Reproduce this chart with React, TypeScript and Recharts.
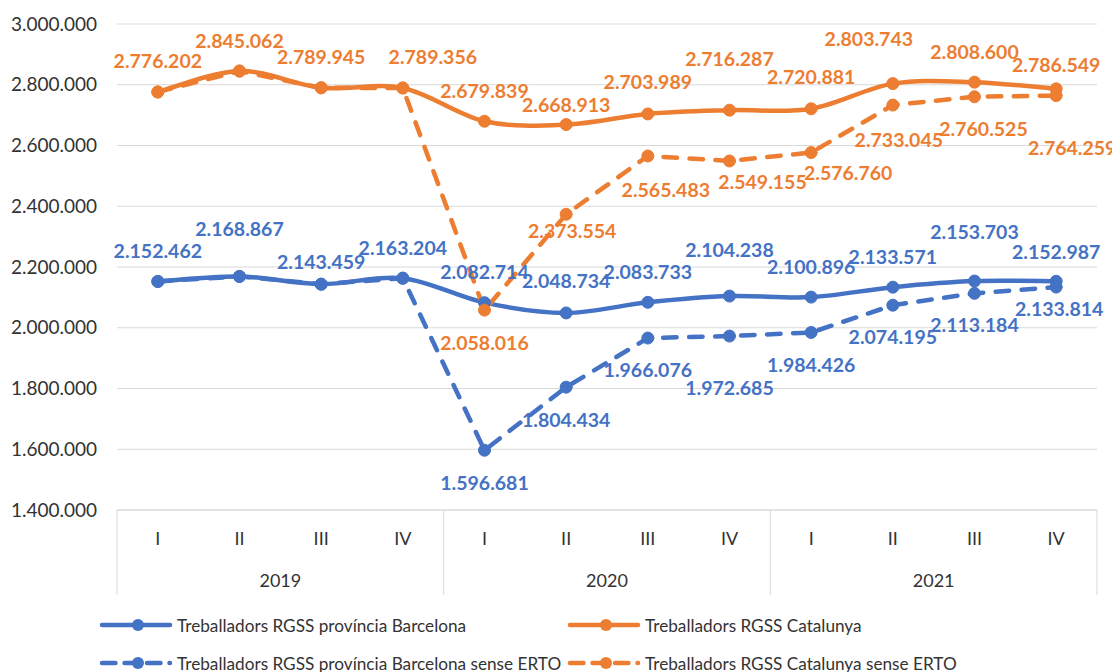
import React from 'react';
import { LineChart, Line, XAxis, YAxis, CartesianGrid, LabelList, Legend } from 'recharts';

const quarters = ['I', 'II', 'III', 'IV', 'I', 'II', 'III', 'IV', 'I', 'II', 'III', 'IV'];
const years = ['2019', '2019', '2019', '2019', '2020', '2020', '2020', '2020', '2021', '2021', '2021', '2021'];
const bcn = [2152462, 2168867, 2143459, 2163204, 2082714, 2048734, 2083733, 2104238, 2100896, 2133571, 2153703, 2152987];
const cat = [2776202, 2845062, 2789945, 2789356, 2679839, 2668913, 2703989, 2716287, 2720881, 2803743, 2808600, 2786549];
const bcnSense = [2152462, 2168867, 2143459, 2163204, 1596681, 1804434, 1966076, 1972685, 1984426, 2074195, 2113184, 2133814];
const catSense = [2776202, 2845062, 2789945, 2789356, 2058016, 2373554, 2565483, 2549155, 2576760, 2733045, 2760525, 2764259];
const yTicks = [1400000, 1600000, 1800000, 2000000, 2200000, 2400000, 2600000, 2800000, 3000000];
const seriesNames = [
  'Treballadors RGSS província Barcelona',
  'Treballadors RGSS Catalunya',
  'Treballadors RGSS província Barcelona sense ERTO',
  'Treballadors RGSS Catalunya sense ERTO',
];
const uniqueYears = Array.from(new Set(years));

const BLUE = '#4472C4';
const ORANGE = '#ED7D31';
const GRID = '#D9D9D9';
const TEXT = '#333333';
const FONT = 'Lato, sans-serif';
const DASH = '13.5 12.5';

// label offsets [dx, dy] relative to the point (null = no label)
const bcnLabelOff: (number[] | null)[] = [
  [0, -31], [0, -48], [0, -23], [0, -31], [0, -31], [0, -32], [0, -31], [0, -47], [0, -31], [0, -31], [0, -50], [0, -30],
];
const catLabelOff: (number[] | null)[] = [
  [0, -31], [0, -31], [0, -31], [30, -31], [0, -31], [0, -20], [0, -32], [0, -52], [0, -32], [-24, -45], [0, -31], [0, -24],
];
const bcnSenseLabelOff: (number[] | null)[] = [
  null, null, null, null, [0, 32], [0, 32], [0, 31], [0, 51], [0, 32], [0, 31], [0, 31], [3, 21],
];
const catSenseLabelOff: (number[] | null)[] = [
  null, null, null, null, [0, 32], [6, 16], [18, 34], [33, 21], [37, 20], [6, 34], [9, 32], [16, 52],
];

const data = quarters.map((q, i) => ({
  q,
  year: years[i],
  bcn: bcn[i],
  cat: cat[i],
  bcnSense: bcnSense[i],
  catSense: catSense[i],
}));

const fmt = (v: number) => String(v).replace(/\B(?=(\d{3})+(?!\d))/g, '.');

// Excel-like smoothing (Catmull-Rom style bezier)
const excelCurve = (context: any) => {
  let pts: number[][] = [];
  return {
    areaStart() {},
    areaEnd() {},
    lineStart() {
      pts = [];
    },
    point(x: number, y: number) {
      pts.push([+x, +y]);
    },
    lineEnd() {
      const n = pts.length;
      if (!n) return;
      context.moveTo(pts[0][0], pts[0][1]);
      for (let i = 0; i < n - 1; i++) {
        const p0 = pts[Math.max(i - 1, 0)];
        const p1 = pts[i];
        const p2 = pts[i + 1];
        const p3 = pts[Math.min(i + 2, n - 1)];
        context.bezierCurveTo(
          p1[0] + (p2[0] - p0[0]) / 6,
          p1[1] + (p2[1] - p0[1]) / 6,
          p2[0] - (p3[0] - p1[0]) / 6,
          p2[1] - (p3[1] - p1[1]) / 6,
          p2[0],
          p2[1]
        );
      }
    },
  };
};

const makeLabel = (color: string, offs: (number[] | null)[]) => (props: any) => {
  const { x, y, value, index } = props;
  const o = offs[index];
  if (!o || x == null || y == null) return null;
  return (
    <text
      x={x + o[0]}
      y={y + o[1]}
      textAnchor="middle"
      dominantBaseline="central"
      fill={color}
      fontSize={19.5}
      fontWeight={700}
      fontFamily={FONT}
    >
      {fmt(value)}
    </text>
  );
};

const QuarterTick = (props: any) => {
  const { x, y, payload } = props;
  return (
    <text x={x} y={y + 28} textAnchor="middle" dominantBaseline="central" fill={TEXT} fontSize={18} fontWeight={400} fontFamily={FONT}>
      {payload.value}
    </text>
  );
};

const YearTick = (props: any) => {
  const { x, y, payload, index, visibleTicksCount } = props;
  // if ticks were not de-duplicated, draw each year only once
  if (visibleTicksCount !== uniqueYears.length && years.indexOf(payload.value) !== index) return null;
  const isLast = payload.value === uniqueYears[uniqueYears.length - 1];
  const half = payload && payload.offset ? payload.offset : 980 / 6;
  const top = y - 42;
  const bottom = y + 43;
  return (
    <g>
      <line x1={x - half} x2={x - half} y1={top} y2={bottom} stroke={GRID} strokeWidth={1} />
      {isLast && <line x1={x + half} x2={x + half} y1={top} y2={bottom} stroke={GRID} strokeWidth={1} />}
      <text x={x} y={y + 28} textAnchor="middle" dominantBaseline="central" fill={TEXT} fontSize={18} fontWeight={400} fontFamily={FONT}>
        {payload.value}
      </text>
    </g>
  );
};

const LegendSample = ({ x, y, color, dashed }: { x: number; y: number; color: string; dashed: boolean }) => (
  <g>
    <line
      x1={x}
      x2={x + 68}
      y1={y}
      y2={y}
      stroke={color}
      strokeWidth={4.5}
      strokeLinecap="round"
      strokeDasharray={dashed ? '13.5 9' : undefined}
    />
    <circle cx={x + 36} cy={y} r={6} fill={color} />
  </g>
);

const LegendContent = () => {
  const items = [
    { x: 94, y: 33, color: BLUE, dashed: false, name: seriesNames[0] },
    { x: 562, y: 33, color: ORANGE, dashed: false, name: seriesNames[1] },
    { x: 94, y: 71, color: BLUE, dashed: true, name: seriesNames[2] },
    { x: 562, y: 71, color: ORANGE, dashed: true, name: seriesNames[3] },
  ];
  return (
    <svg width={1112} height={80} style={{ display: 'block' }}>
      {items.map((it, i) => (
        <g key={i}>
          <LegendSample x={it.x} y={it.y} color={it.color} dashed={it.dashed} />
          <text x={it.x + 75} y={it.y} dominantBaseline="central" fill={TEXT} fontSize={17.2} fontFamily={FONT}>
            {it.name}
          </text>
        </g>
      ))}
    </svg>
  );
};

export default function App() {
  return (
    <LineChart width={1112} height={664} data={data} margin={{ top: 16, right: 23, left: 0, bottom: 0 }}>
      <CartesianGrid vertical={false} stroke={GRID} strokeWidth={1} />
      <XAxis
        dataKey="q"
        interval={0}
        height={42}
        padding={{ left: 980 / 24, right: 980 / 24 }}
        tickLine={false}
        tickSize={0}
        tickMargin={0}
        axisLine={{ stroke: GRID, strokeWidth: 1 }}
        tick={<QuarterTick />}
      />
      <XAxis
        xAxisId="year"
        dataKey="year"
        scale="band"
        allowDuplicatedCategory={false}
        interval={0}
        height={40}
        tickLine={false}
        tickSize={0}
        tickMargin={0}
        axisLine={false}
        tick={<YearTick />}
      />
      <YAxis
        width={109}
        domain={[1400000, 3000000]}
        ticks={yTicks}
        interval={0}
        tickFormatter={fmt}
        axisLine={false}
        tickLine={false}
        tickSize={0}
        tickMargin={20}
        tick={{ fill: TEXT, fontSize: 19, fontFamily: FONT }}
      />
      <Legend
        verticalAlign="bottom"
        content={<LegendContent />}
        wrapperStyle={{ left: 0, bottom: 0, width: 1112, height: 80 }}
      />
      <Line
        dataKey="bcn"
        name={seriesNames[0]}
        type={excelCurve as any}
        stroke={BLUE}
        strokeWidth={4.5}
        dot={{ r: 6, fill: BLUE, stroke: BLUE, strokeWidth: 1 }}
        isAnimationActive={false}
      >
        <LabelList dataKey="bcn" content={makeLabel(BLUE, bcnLabelOff)} />
      </Line>
      <Line
        dataKey="cat"
        name={seriesNames[1]}
        type={excelCurve as any}
        stroke={ORANGE}
        strokeWidth={4.5}
        dot={{ r: 6, fill: ORANGE, stroke: ORANGE, strokeWidth: 1 }}
        isAnimationActive={false}
      >
        <LabelList dataKey="cat" content={makeLabel(ORANGE, catLabelOff)} />
      </Line>
      <Line
        dataKey="bcnSense"
        name={seriesNames[2]}
        type="linear"
        stroke={BLUE}
        strokeWidth={4.5}
        strokeDasharray={DASH}
        strokeLinecap="round"
        dot={{ r: 6, fill: BLUE, stroke: BLUE, strokeWidth: 1, strokeDasharray: '0' }}
        isAnimationActive={false}
      >
        <LabelList dataKey="bcnSense" content={makeLabel(BLUE, bcnSenseLabelOff)} />
      </Line>
      <Line
        dataKey="catSense"
        name={seriesNames[3]}
        type="linear"
        stroke={ORANGE}
        strokeWidth={4.5}
        strokeDasharray={DASH}
        strokeLinecap="round"
        dot={{ r: 6, fill: ORANGE, stroke: ORANGE, strokeWidth: 1, strokeDasharray: '0' }}
        isAnimationActive={false}
      >
        <LabelList dataKey="catSense" content={makeLabel(ORANGE, catSenseLabelOff)} />
      </Line>
    </LineChart>
  );
}
